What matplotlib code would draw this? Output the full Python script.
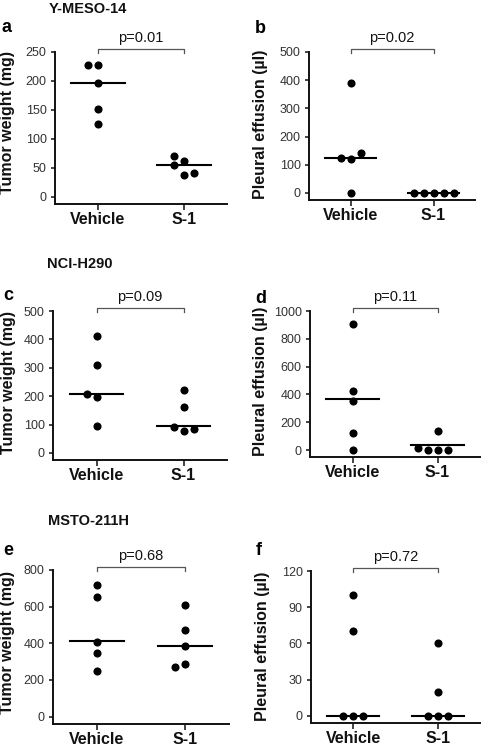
import matplotlib
matplotlib.use("Agg")
import matplotlib.pyplot as plt
import numpy as np

plt.rcParams["font.family"] = ["Liberation Sans", "DejaVu Sans"]

W, H = 484, 749
INK = "#111111"
TICK_GREY = "#333333"
BRACKET = "#555555"

groups = ["Vehicle", "S-1"]

# values (list order only affects dot placement)
a_vehicle = [227, 227, 196, 151, 126]
a_s1 = [62, 70, 38, 54, 41]
a_lines = [197, 54]

b_vehicle = [390, 0, 120, 123, 140]
b_s1 = [0, 0, 0, 0, 0]
b_lines = [124, 0]

c_vehicle = [411, 310, 196, 208, 95]
c_s1 = [220, 162, 78, 93, 84]
c_lines = [208, 95]

d_vehicle = [904, 355, 427, 120, 0]
d_s1 = [139, 0, 0, 0, 17]
d_lines = [365, 36]

e_vehicle = [720, 651, 347, 407, 248]
e_s1 = [608, 471, 384, 290, 270]
e_lines = [411, 388]

f_vehicle = [100, 70, 0, 0, 0]
f_s1 = [60, 20, 0, 0, 0]
f_lines = [0, 0]

letters = ["a", "b", "c", "d", "e", "f"]
p_texts = ["p=0.01", "p=0.02", "p=0.09", "p=0.11", "p=0.68", "p=0.72"]
y_tops = [250, 500, 500, 1000, 800, 120]
y_steps = [50, 100, 100, 200, 200, 30]
row_titles = ["Y-MESO-14", "NCI-H290", "MSTO-211H"]
ylabels = ["Tumor weight (mg)", "Pleural effusion (\u00b5l)"]

panels = [
    (a_vehicle, a_s1, a_lines),
    (b_vehicle, b_s1, b_lines),
    (c_vehicle, c_s1, c_lines),
    (d_vehicle, d_s1, d_lines),
    (e_vehicle, e_s1, e_lines),
    (f_vehicle, f_s1, f_lines),
]

# axes boxes in pixels: left, right, top, bottom
boxes = [
    (55, 227, 52, 204),
    (309, 475, 52, 200),
    (53, 227, 311, 460),
    (310, 480, 311, 457),
    (53, 229, 570, 724),
    (311, 480, 571, 723),
]
letter_pos = [(2, 32), (255, 33), (3, 300), (255, 303), (3, 555), (256, 555)]
title_pos = [(49, 13), (47, 268), (48, 525)]
ylabel_pos = [(8, 123), (261, 124), (9, 382), (261, 381), (8, 642), (263, 646)]


def swarm(ax, values, center, step_px=10.0, min_px=9.0):
    # simple dot-plot dodge: shift a dot sideways while it overlaps another one
    bb = ax.get_window_extent()
    x0, x1 = ax.get_xlim()
    y0, y1 = ax.get_ylim()
    sx = bb.width / (x1 - x0)
    sy = bb.height / (y1 - y0)
    placed = []
    xs = []
    for v in values:
        yp = v * sy
        for k in [0, -1, 1, -2, 2, -3, 3]:
            if all(np.hypot((k - s) * step_px, yp - q) >= min_px for s, q in placed):
                break
        placed.append((k, yp))
        xs.append(center + k * step_px / sx)
    return xs


fig = plt.figure(figsize=(W / 100, H / 100), dpi=100, facecolor="white")

for i, (veh, s1, lines) in enumerate(panels):
    l, r, t, b = boxes[i]
    ax = fig.add_axes([l / W, 1 - b / H, (r - l) / W, (b - t) / H])
    top = y_tops[i]
    ax.set_xlim(-0.5, 1.5)
    ax.set_ylim(-0.05 * top, top)
    ax.set_yticks(np.arange(0, top + 1, y_steps[i]))
    ax.set_xticks([0, 1])
    ax.set_xticklabels(groups, fontsize=11.5, fontweight="bold", color=INK)
    for sp in ("top", "right"):
        ax.spines[sp].set_visible(False)
    for sp in ("left", "bottom"):
        ax.spines[sp].set_linewidth(1.4)
        ax.spines[sp].set_color(INK)
    ax.tick_params(axis="y", length=3, width=1.1, pad=3, labelsize=9,
                   labelcolor=TICK_GREY, color=INK)
    ax.tick_params(axis="x", length=4, width=1.1, pad=2, color=INK)

    for g, vals in enumerate([veh, s1]):
        xs = swarm(ax, vals, g)
        ax.scatter(xs, vals, s=34, color="black", zorder=3, clip_on=False,
                   linewidths=0)
        ax.plot([g - 0.31, g + 0.31], [lines[g], lines[g]], color="black",
                lw=1.5, zorder=2, clip_on=False)

    # significance bracket
    h = b - t
    yb = 1 + 3 / h
    tr = ax.get_xaxis_transform()
    ax.plot([0, 0, 1, 1], [yb - 4 / h, yb, yb, yb - 4 / h], color=BRACKET,
            lw=0.9, transform=tr, clip_on=False)
    ax.text(0.5, yb + 11 / h, p_texts[i], transform=tr, ha="center",
            va="center", fontsize=10.5, color=INK)

    lx, ly = letter_pos[i]
    fig.text(lx / W, 1 - ly / H, letters[i], fontsize=13, fontweight="bold",
             ha="left", va="baseline", color="black")
    yx, yy = ylabel_pos[i]
    fig.text(yx / W, 1 - yy / H, ylabels[i % 2], rotation=90, fontsize=11.5,
             fontweight="bold", ha="center", va="center", color=INK)

for (tx, ty), title in zip(title_pos, row_titles):
    fig.text(tx / W, 1 - ty / H, title, fontsize=10.5, fontweight="bold",
             ha="left", va="baseline", color=INK)

fig.savefig("out.png", dpi=100, facecolor="white")
